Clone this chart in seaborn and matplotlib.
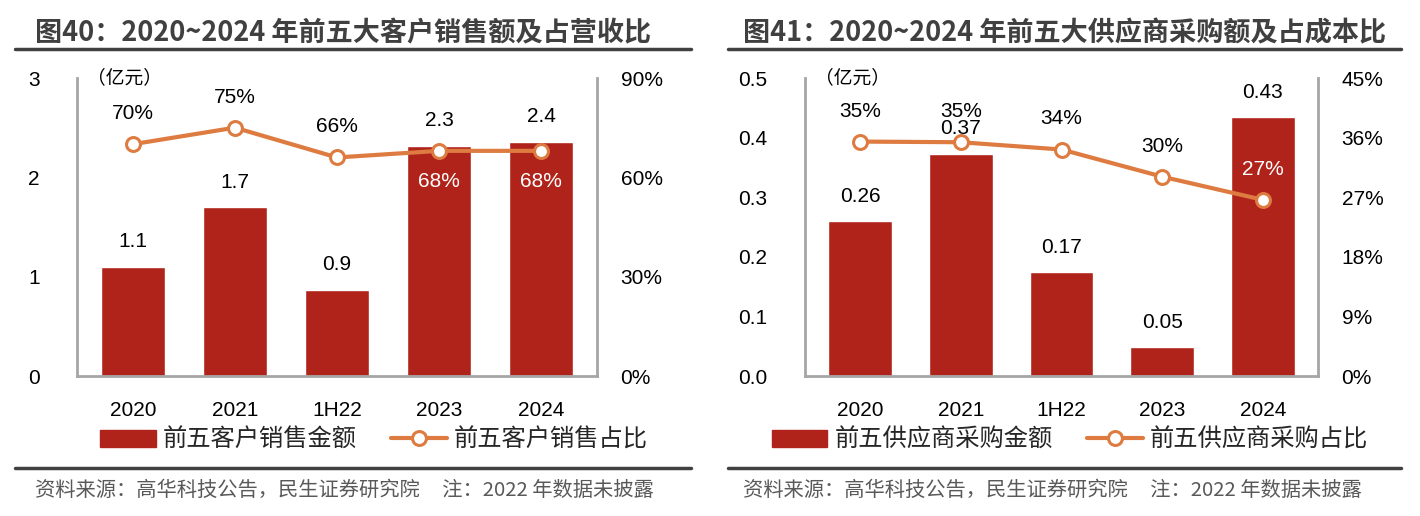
import pandas as pd
import matplotlib.pyplot as plt
import seaborn as sns
from matplotlib.lines import Line2D
from matplotlib.patches import Patch

# data
years = ["2020", "2021", "1H22", "2023", "2024"]
cust_sales = [1.1, 1.7, 0.87, 2.32, 2.36]          # 亿元
cust_ratio = [70, 75, 66, 68, 68]                  # %
supp_purchase = [0.26, 0.373, 0.174, 0.048, 0.434]  # 亿元
supp_ratio = [35.4, 35.3, 34.2, 30.1, 26.6]        # %

sns.set_theme(style="white")
plt.rcParams["font.family"] = ["Liberation Sans", "Noto Sans CJK SC", "DejaVu Sans"]

RED = "#B0231A"
ORANGE = "#DE7B40"
GREY = "#A6A6A6"
DARK = "#404040"
CJK = ["Noto Sans CJK SC", "DejaVu Sans"]

W, H = 1420, 516
fig = plt.figure(figsize=(W / 100, H / 100), dpi=100)


def px_axes(x0, x1, y_top, y_bot):
    return fig.add_axes([x0 / W, 1 - y_bot / H, (x1 - x0) / W, (y_bot - y_top) / H])


def panel(x0, x1, bars, ratios, ymax, yticks, yfmt, rmax, rticks, bar_fmt,
          white_idx, white_below, bar_name, line_name, title, text_x, rule,
          legend_x):
    ax = px_axes(x0, x1, 78, 376)
    df = pd.DataFrame({"year": years, "val": bars, "pct": ratios})
    sns.barplot(data=df, x="year", y="val", color=RED, width=0.63, ax=ax,
                saturation=1)
    ax.set_ylim(0, ymax)
    ax.set_yticks(yticks)
    ax.set_yticklabels([yfmt.format(t) for t in yticks])
    ax.set_xlabel("")
    ax.set_ylabel("")
    ax.tick_params(axis="y", length=0, pad=27, labelsize=15, labelcolor="black")
    ax.tick_params(axis="x", length=0, pad=18, labelsize=15, labelcolor="black")
    for s in ["top", "right"]:
        ax.spines[s].set_visible(False)
    for s in ["left", "bottom"]:
        ax.spines[s].set_color(GREY)
        ax.spines[s].set_linewidth(2)

    for i, v in enumerate(bars):
        ax.annotate(bar_fmt.format(v), (i, v), xytext=(0, 18), textcoords="offset points",
                    ha="center", va="center", fontsize=15, color="black")

    ax2 = ax.twinx()
    sns.lineplot(x=list(range(len(years))), y=ratios, ax=ax2, color=ORANGE, lw=3,
                 marker="o", markersize=10, markerfacecolor="white",
                 markeredgecolor=ORANGE, markeredgewidth=2.2)
    ax2.set_ylim(0, rmax)
    ax2.set_yticks(rticks)
    ax2.set_yticklabels([f"{t:.0f}%" for t in rticks])
    ax2.tick_params(axis="y", length=0, pad=17, labelsize=15, labelcolor="black")
    for s in ["top", "left", "bottom"]:
        ax2.spines[s].set_visible(False)
    ax2.spines["right"].set_color(GREY)
    ax2.spines["right"].set_linewidth(2)
    ax2.grid(False)

    for i, p in enumerate(ratios):
        white = i in white_idx
        dy = -22 if (white and white_below) else 22
        ax2.annotate(f"{p:.0f}%", (i, p), xytext=(0, dy), textcoords="offset points",
                     ha="center", va="center", fontsize=15,
                     color="white" if white else "black")

    ax.text(0.02, 1.0, "（亿元）", transform=ax.transAxes, ha="left", va="center",
            fontsize=13.5, family=CJK, color="black")

    # title and rules
    fig.text(text_x / W, 1 - 33 / H, title, ha="left", va="center",
             fontsize=19.5, fontweight="bold", color=DARK, family=CJK)
    fig.add_artist(Line2D([rule[0] / W, rule[1] / W], [1 - 49 / H] * 2,
                          color=DARK, lw=2.5))
    fig.add_artist(Line2D([rule[0] / W, rule[1] / W], [1 - 468 / H] * 2,
                          color=DARK, lw=2.5))
    fig.text(text_x / W, 1 - 490 / H,
             "资料来源：高华科技公告，民生证券研究院     注：2022 年数据未披露",
             ha="left", va="center", fontsize=14.6, color="#595959", family=CJK)

    handles = [Patch(facecolor=RED, edgecolor=RED),
               Line2D([], [], color=ORANGE, lw=3, marker="o", markersize=10,
                      markerfacecolor="white", markeredgecolor=ORANGE,
                      markeredgewidth=2.2)]
    fig.legend(handles, [bar_name, line_name], loc="center",
               bbox_to_anchor=(legend_x / W, 1 - 440 / H), ncol=2, frameon=False,
               prop={"family": CJK, "size": 17.5}, handlelength=2.3,
               handleheight=0.7, columnspacing=1.4, handletextpad=0.3)


panel(77, 597, cust_sales, cust_ratio, 3, [0, 1, 2, 3], "{:.0f}", 90,
      [0, 30, 60, 90], "{:.1f}", white_idx={3, 4}, white_below=True,
      bar_name="前五客户销售金额", line_name="前五客户销售占比",
      title="图40：2020~2024 年前五大客户销售额及占营收比", text_x=35,
      rule=(15, 691), legend_x=374)

panel(805, 1318, supp_purchase, supp_ratio, 0.5, [0, 0.1, 0.2, 0.3, 0.4, 0.5],
      "{:.1f}", 45, [0, 9, 18, 27, 36, 45], "{:.2f}", white_idx={4},
      white_below=False, bar_name="前五供应商采购金额", line_name="前五供应商采购占比",
      title="图41：2020~2024 年前五大供应商采购额及占成本比", text_x=743,
      rule=(728, 1401), legend_x=1070)

fig.savefig("out.png", dpi=100)
